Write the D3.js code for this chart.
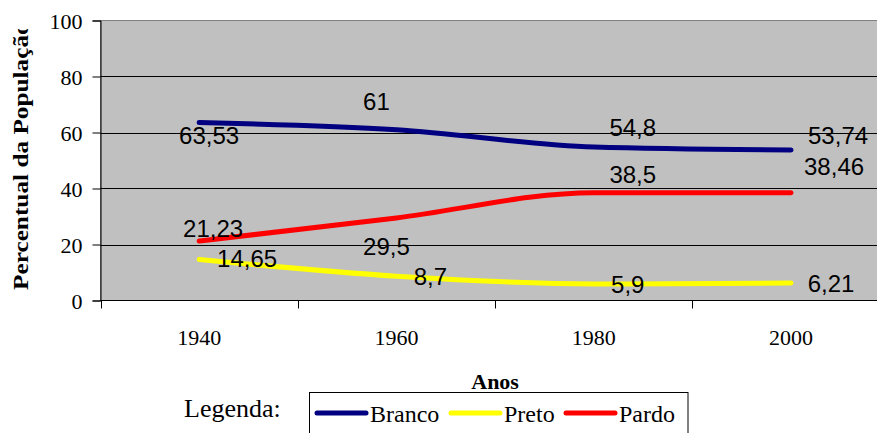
<!DOCTYPE html>
<html>
<head>
<meta charset="utf-8">
<script src="https://cdn.jsdelivr.net/npm/d3@7"></script>
<style>
  html, body { margin: 0; padding: 0; background: #fff; }
  svg { display: block; }
  .serif { font-family: "Liberation Serif", "Times New Roman", Times, "DejaVu Serif", serif; }
  .sans { font-family: "Liberation Sans", Arial, Helvetica, sans-serif; }
</style>
</head>
<body>
<svg id="chart" width="877" height="433"></svg>
<script>
// ---- Data ----
const years = ["1940", "1960", "1980", "2000"];
const branco = [63.53, 61, 54.8, 53.74];
const preto = [14.65, 8.7, 5.9, 6.21];
const pardo = [21.23, 29.5, 38.5, 38.46];
const brancoLabels = ["63,53", "61", "54,8", "53,74"];
const pretoLabels = ["14,65", "8,7", "5,9", "6,21"];
const pardoLabels = ["21,23", "29,5", "38,5", "38,46"];
const yTicks = [0, 20, 40, 60, 80, 100];
const seriesNames = ["Branco", "Preto", "Pardo"];

// ---- Layout / style (not data) ----
const colors = { Branco: "#000080", Preto: "#FFFF00", Pardo: "#FF0000" };
const labelOffsets = {
  Branco: [[10, 13], [-20, -28], [39, -20], [47, -15]],
  Preto: [[48, -1], [34, 0], [34, 0], [40, 0]],
  Pardo: [[14, -13], [-10, 28], [39, -18], [43, -26]]
};

const series = [
  { name: "Branco", values: branco, labels: brancoLabels },
  { name: "Preto", values: preto, labels: pretoLabels },
  { name: "Pardo", values: pardo, labels: pardoLabels }
];

const svg = d3.select("#chart");
const pLeft = 100.5, pRight = 889.7, pTop = 20.5, pBottom = 300.5;

const x = d3.scaleBand().domain(years).range([pLeft, pRight]).padding(0);
const y = d3.scaleLinear().domain([0, 100]).range([pBottom, pTop]);
const cx = d => x(d) + x.bandwidth() / 2;

// plot background
svg.append("rect")
  .attr("x", pLeft).attr("y", pTop)
  .attr("width", pRight - pLeft).attr("height", pBottom - pTop)
  .attr("fill", "#C0C0C0")
  .attr("stroke", "#808080").attr("stroke-width", 1);

// gridlines
svg.append("g").selectAll("line")
  .data(yTicks.filter(t => t > 0 && t < 100))
  .join("line")
  .attr("x1", pLeft).attr("x2", pRight)
  .attr("y1", d => Math.round(y(d)) + 0.5).attr("y2", d => Math.round(y(d)) + 0.5)
  .attr("stroke", "#000").attr("stroke-width", 1);

// y axis
const yAxis = d3.axisLeft(y).tickValues(yTicks).tickSize(8).tickFormat(d3.format("d"));
const gy = svg.append("g").attr("transform", `translate(${pLeft},0)`).call(yAxis)
  .attr("font-family", null).attr("font-size", null);
gy.select(".domain").attr("stroke", "#000");
gy.selectAll(".tick line").attr("stroke", "#000");
gy.selectAll(".tick text")
  .attr("class", "serif")
  .attr("x", -18).attr("dy", "0.36em")
  .attr("font-size", 22).attr("fill", "#000");

// x axis (ticks at category boundaries)
const gx = svg.append("g").attr("transform", `translate(0,${pBottom})`);
gx.append("line").attr("x1", pLeft).attr("x2", pRight).attr("y1", 0).attr("y2", 0).attr("stroke", "#000");
const boundaries = years.map(d => x(d)).concat([pRight]);
gx.selectAll("line.tk").data(boundaries).join("line").attr("class", "tk")
  .attr("x1", d => Math.round(d) + 0.5).attr("x2", d => Math.round(d) + 0.5)
  .attr("y1", 0).attr("y2", 8).attr("stroke", "#000");
gx.selectAll("text").data(years).join("text")
  .attr("class", "serif")
  .attr("x", d => cx(d)).attr("y", 44.5)
  .attr("text-anchor", "middle")
  .attr("font-size", 22).attr("fill", "#000")
  .text(d => d);

// lines
const line = d3.line().x((d, i) => cx(years[i])).y(d => y(d)).curve(d3.curveMonotoneX);
svg.append("g").selectAll("path").data(series).join("path")
  .attr("d", s => line(s.values))
  .attr("fill", "none")
  .attr("stroke", s => colors[s.name])
  .attr("stroke-width", 5)
  .attr("stroke-linecap", "round")
  .attr("stroke-linejoin", "round");

// data labels
series.forEach(s => {
  svg.append("g").selectAll("text").data(s.values).join("text")
    .attr("class", "sans")
    .attr("x", (d, i) => cx(years[i]) + labelOffsets[s.name][i][0])
    .attr("y", (d, i) => y(d) + labelOffsets[s.name][i][1])
    .attr("dy", "0.36em")
    .attr("text-anchor", "middle")
    .attr("font-size", 24).attr("fill", "#000")
    .text((d, i) => s.labels[i]);
});

// y axis title (clipped at top like the original)
const defs = svg.append("defs");
defs.append("clipPath").attr("id", "ytclip")
  .append("rect").attr("x", 0).attr("y", 29).attr("width", 60).attr("height", 300);
svg.append("g").attr("clip-path", "url(#ytclip)")
  .append("text")
  .attr("class", "serif")
  .attr("transform", "translate(28,290) rotate(-90) scale(1.15,1)")
  .attr("font-weight", "bold").attr("font-size", 22).attr("fill", "#000")
  .text("Percentual da População");

// x axis title
svg.append("text")
  .attr("class", "serif")
  .attr("x", (pLeft + pRight) / 2).attr("y", 389)
  .attr("text-anchor", "middle")
  .attr("font-weight", "bold").attr("font-size", 22).attr("fill", "#000")
  .text("Anos");

// "Legenda:" label
svg.append("text")
  .attr("class", "serif")
  .attr("x", 184).attr("y", 417)
  .attr("font-size", 26).attr("fill", "#000")
  .text("Legenda:");

// legend box
svg.append("rect")
  .attr("x", 309.5).attr("y", 392.5).attr("width", 378.5).attr("height", 60)
  .attr("fill", "#fff").attr("stroke", "#000").attr("stroke-width", 1);

const legendX = [317, 451, 566];
const lg = svg.append("g").selectAll("g").data(seriesNames).join("g")
  .attr("transform", (d, i) => `translate(${legendX[i]},413)`);
lg.append("line").attr("x1", 0).attr("x2", 49).attr("y1", 0).attr("y2", 0)
  .attr("stroke", d => colors[d]).attr("stroke-width", 5).attr("stroke-linecap", "round");
lg.append("text")
  .attr("class", "serif")
  .attr("x", 53).attr("y", 8.5)
  .attr("font-size", 24).attr("fill", "#000")
  .text(d => d);
</script>
</body>
</html>
